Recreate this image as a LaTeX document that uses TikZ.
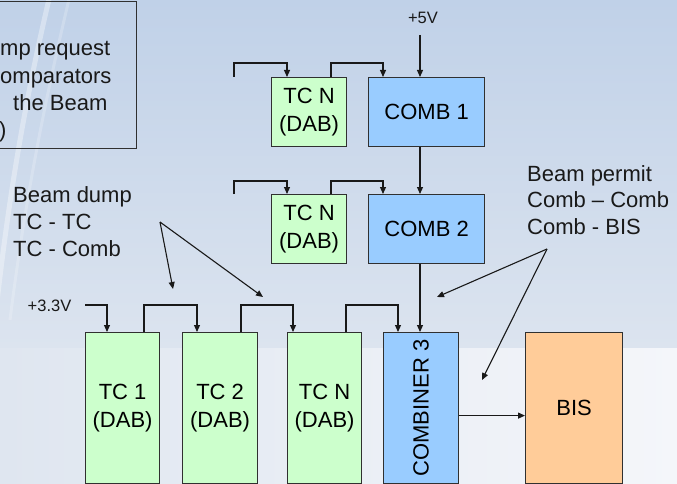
\documentclass[tikz,border=0pt]{standalone}
\usepackage{fontspec}
\setmainfont{Liberation Sans}
\usetikzlibrary{arrows.meta,calc}
\definecolor{tcgreen}{HTML}{CCFFCC}
\definecolor{combblue}{HTML}{99CCFF}
\definecolor{bisorange}{HTML}{FFCC99}
\definecolor{edgegray}{HTML}{303030}
\definecolor{bgtop}{HTML}{C0D1E8}
\definecolor{bgmid}{HTML}{DCE4EF}
\definecolor{bgbotl}{HTML}{DFE6F0}
\definecolor{bgbotr}{HTML}{F4F6FA}
\begin{document}
\begin{tikzpicture}[x=1pt,y=-1pt,
  box/.style={draw=edgegray, line width=1.2pt, inner sep=0pt, anchor=north west,
    font=\fontsize{22}{27.5}\selectfont, align=center},
  tcbox/.style={box, fill=tcgreen},
  combbox/.style={box, fill=combblue},
  bisbox/.style={box, fill=bisorange},
  conn/.style={line width=1.1pt, draw=black!90, -{Triangle[length=7pt,width=6pt]}},
  lbl/.style={font=\fontsize{22}{27}\selectfont, inner sep=0pt, anchor=base west, text=black!90},
  vlbl/.style={font=\fontsize{16.5}{20}\selectfont, inner sep=0pt, text=black!90}
]
\useasboundingbox (0,0) rectangle (677,484);
\clip (0,0) rectangle (677,484);
% background
\shade[top color=bgtop, bottom color=bgmid] (0,0) rectangle (677,348);
\shade[left color=bgbotl, right color=bgbotr] (0,348) rectangle (677,484);
\draw[white, opacity=0.35, line width=5pt] (50,-5) .. controls (25,100) and (8,200) .. (-5,320);
\draw[white, opacity=0.2, line width=3pt] (70,-5) .. controls (45,100) and (25,200) .. (10,320);

% top-left text box (partly outside)
\node[draw=edgegray, line width=1.3pt, inner sep=0pt, minimum width=150pt, minimum height=147pt, anchor=north east] (req) at (137,1) {};
\node[lbl] (req1) at (0,56) {mp request};
\node[lbl] (req2) at (0,84) {omparators};
\node[lbl] (req3) at (13,111) {the Beam};
\node[lbl] (req4) at (-1,138) {)};

% labels
\node[lbl] (bd1) at (13,202) {Beam dump};
\node[lbl] (bd2) at (13,229) {TC - TC};
\node[lbl] (bd3) at (13,256) {TC - Comb};
\node[lbl] (bp1) at (527,181) {Beam permit};
\node[lbl] (bp2) at (527,207) {Comb -- Comb};
\node[lbl] (bp3) at (527,234) {Comb - BIS};
\node[vlbl] (v5) at (423,17.5) {+5V};
\node[vlbl] (v33) at (49.5,306) {+3.3V};

% boxes
\node[tcbox, minimum width=75pt, minimum height=69pt] (tcA) at (271,77) {TC N\\(DAB)};
\node[combbox, minimum width=116pt, minimum height=69pt] (combA) at (368,77) {COMB 1};
\node[tcbox, minimum width=75pt, minimum height=69pt] (tcB) at (271,194) {TC N\\(DAB)};
\node[combbox, minimum width=116pt, minimum height=69pt] (combB) at (368,194) {COMB 2};
\node[tcbox, minimum width=74pt, minimum height=151pt] (tc1) at (85,332) {TC 1\\(DAB)};
\node[tcbox, minimum width=75pt, minimum height=151pt] (tc2) at (182,332) {TC 2\\(DAB)};
\node[tcbox, minimum width=74pt, minimum height=151pt] (tc3) at (287,332) {TC N\\(DAB)};
\node[combbox, minimum width=75pt, minimum height=151pt] (combC) at (383,332) {\rotatebox{90}{COMBINER 3}};
\node[bisbox, minimum width=97pt, minimum height=151pt] (bis) at (525,332) {BIS};

% free ends
\coordinate (inA) at (234,77);
\coordinate (inB) at (234,194);
\coordinate (v5end) at (420,35);
\coordinate (v33end) at (85,305);
\coordinate (bdsrc) at (160,222);
\coordinate (bdt1) at (173,289);
\coordinate (bdt2) at (263,297);
\coordinate (bpsrc) at (547,249);
\coordinate (bpt1) at (437,297);
\coordinate (bpt2) at (482,380);

% connectors top row
\draw[conn] (inA) -- ++(0,-14) -| ([xshift=16pt]tcA.north west);
\draw[conn] ([xshift=60pt]tcA.north west) -- ++(0,-14) -| ([xshift=15pt]combA.north west);
\draw[conn] (v5end) -- ([xshift=52pt]combA.north west);
\draw[conn] ([xshift=52pt]combA.south west) -- ([xshift=52pt]combB.north west);
% second row
\draw[conn] (inB) -- ++(0,-13) -| ([xshift=16pt]tcB.north west);
\draw[conn] ([xshift=60pt]tcB.north west) -- ++(0,-13) -| ([xshift=15pt]combB.north west);
\draw[conn] ([xshift=52pt]combB.south west) -- ([xshift=37pt]combC.north west);
% bottom row
\draw[conn] (v33end) -| ([xshift=22pt]tc1.north west);
\draw[conn] ([xshift=59pt]tc1.north west) -- ++(0,-27) -| ([xshift=15pt]tc2.north west);
\draw[conn] ([xshift=59pt]tc2.north west) -- ++(0,-27) -| ([xshift=6pt]tc3.north west);
\draw[conn] ([xshift=59pt]tc3.north west) -- ++(0,-27) -| ([xshift=15pt]combC.north west);
\draw[conn] ([yshift=-7.5pt]combC.east) -- ([yshift=-7.5pt]bis.west);
% callouts
\draw[conn] (bdsrc) -- (bdt1);
\draw[conn] (bdsrc) -- (bdt2);
\draw[conn] (bpsrc) -- (bpt1);
\draw[conn] (bpsrc) -- (bpt2);
\end{tikzpicture}
\end{document}
